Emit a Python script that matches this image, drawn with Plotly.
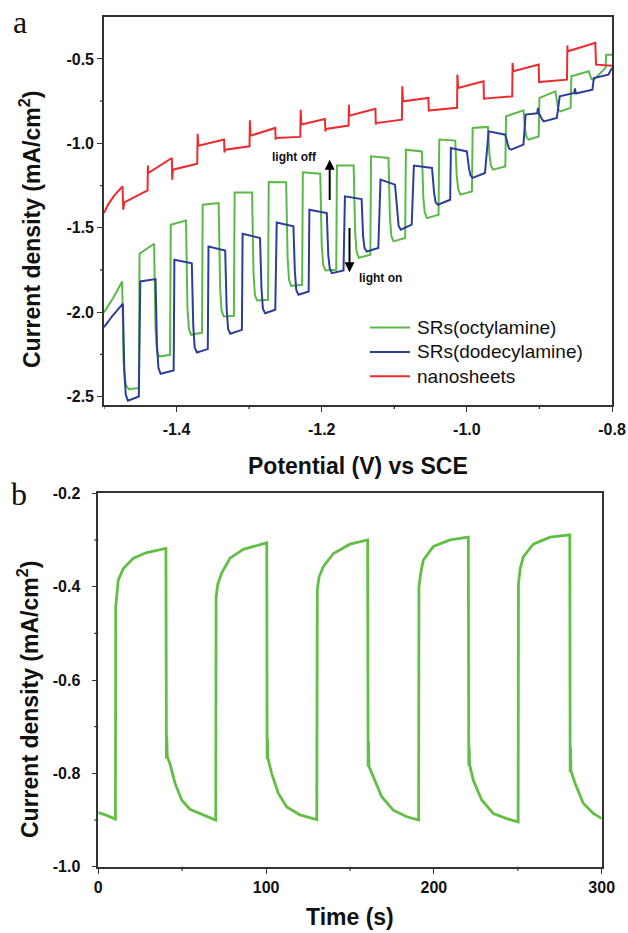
import plotly.graph_objects as go

W, H = 628, 933

# ---- panel a: chopped light LSV, potential (V vs SCE) vs current density (mA/cm2)
oct_v = [-1.500, -1.488, -1.475,
         -1.473, -1.470, -1.466, -1.452, -1.451, -1.431,
         -1.429, -1.427, -1.424, -1.409, -1.408, -1.387,
         -1.385, -1.383, -1.380, -1.365, -1.364, -1.342,
         -1.340, -1.338, -1.335, -1.321, -1.320, -1.296,
         -1.294, -1.292, -1.289, -1.274, -1.273, -1.249,
         -1.247, -1.245, -1.242, -1.227, -1.226, -1.202,
         -1.200, -1.198, -1.195, -1.180, -1.179, -1.156,
         -1.154, -1.152, -1.149, -1.133, -1.132, -1.108,
         -1.106, -1.104, -1.101, -1.085, -1.084, -1.062,
         -1.060, -1.058, -1.055, -1.039, -1.038, -1.016,
         -1.014, -1.012, -1.009, -0.993, -0.992, -0.971,
         -0.969, -0.967, -0.964, -0.947, -0.946, -0.922,
         -0.920, -0.918, -0.915, -0.901, -0.900, -0.878,
         -0.876, -0.874, -0.871, -0.857, -0.856, -0.832,
         -0.830, -0.828, -0.825, -0.809, -0.808, -0.800]
oct_j = [-2.002, -1.920, -1.818,
         -2.300, -2.430, -2.456, -2.450, -1.654, -1.595,
         -2.100, -2.230, -2.263, -2.253, -1.482, -1.457,
         -1.980, -2.100, -2.134, -2.122, -1.364, -1.354,
         -1.860, -1.990, -2.026, -2.022, -1.291, -1.291,
         -1.770, -1.900, -1.931, -1.927, -1.229, -1.231,
         -1.680, -1.810, -1.844, -1.838, -1.172, -1.180,
         -1.600, -1.720, -1.753, -1.749, -1.132, -1.132,
         -1.520, -1.640, -1.678, -1.660, -1.077, -1.087,
         -1.440, -1.550, -1.581, -1.561, -1.038, -1.048,
         -1.320, -1.410, -1.443, -1.423, -0.978, -0.984,
         -1.190, -1.270, -1.304, -1.285, -0.909, -0.903,
         -1.060, -1.130, -1.156, -1.137, -0.840, -0.805,
         -0.910, -0.960, -0.978, -0.959, -0.731, -0.692,
         -0.760, -0.800, -0.811, -0.790, -0.603, -0.573,
         -0.600, -0.620, -0.623, -0.553, -0.475, -0.475]

dod_v = [-1.500, -1.488, -1.474,
         -1.472, -1.470, -1.467, -1.452, -1.450, -1.429,
         -1.427, -1.425, -1.422, -1.404, -1.403, -1.379,
         -1.377, -1.375, -1.372, -1.357, -1.356, -1.333,
         -1.331, -1.329, -1.326, -1.310, -1.309, -1.285,
         -1.283, -1.281, -1.278, -1.264, -1.262, -1.239,
         -1.237, -1.235, -1.232, -1.218, -1.217, -1.193,
         -1.191, -1.189, -1.186, -1.170, -1.168, -1.145,
         -1.143, -1.141, -1.138, -1.122, -1.119, -1.099,
         -1.096, -1.094, -1.091, -1.076, -1.073, -1.048,
         -1.045, -1.043, -1.040, -1.023, -1.022, -1.000,
         -0.997, -0.995, -0.992, -0.975, -0.970, -0.947,
         -0.944, -0.942, -0.939, -0.922, -0.919, -0.903, -0.902, -0.901,
         -0.896, -0.894, -0.876, -0.872, -0.852, -0.851, -0.850, -0.827,
         -0.825, -0.805, -0.800]
dod_j = [-2.089, -2.020, -1.950,
         -2.350, -2.490, -2.524, -2.500, -1.818, -1.804,
         -2.200, -2.330, -2.365, -2.346, -1.690, -1.711,
         -2.080, -2.210, -2.239, -2.219, -1.611, -1.635,
         -1.980, -2.100, -2.128, -2.105, -1.536, -1.561,
         -1.860, -1.980, -2.006, -1.986, -1.469, -1.492,
         -1.760, -1.870, -1.897, -1.878, -1.393, -1.413,
         -1.660, -1.740, -1.769, -1.753, -1.314, -1.330,
         -1.550, -1.620, -1.641, -1.620, -1.215, -1.245,
         -1.430, -1.490, -1.512, -1.482, -1.132, -1.146,
         -1.300, -1.350, -1.364, -1.334, -1.028, -1.048,
         -1.150, -1.190, -1.205, -1.176, -0.929, -0.949,
         -1.000, -1.030, -1.038, -1.008, -0.830, -0.822, -0.790, -0.820,
         -0.860, -0.870, -0.850, -0.722, -0.702, -0.675, -0.705, -0.682,
         -0.613, -0.593, -0.553]

nano_v = [-1.500, -1.494, -1.486, -1.4745,
          -1.4735, -1.472, -1.440, -1.4395, -1.439, -1.4065,
          -1.406, -1.405, -1.3715, -1.371, -1.370, -1.3345,
          -1.334, -1.333, -1.2995, -1.299, -1.298, -1.264,
          -1.2635, -1.263, -1.2295, -1.229, -1.228, -1.1955,
          -1.195, -1.194, -1.163, -1.1625, -1.162, -1.126,
          -1.1255, -1.125, -1.0895, -1.089, -1.088, -1.053,
          -1.0525, -1.052, -1.0135, -1.013, -1.012, -0.977,
          -0.9765, -0.976, -0.9375, -0.937, -0.936, -0.901,
          -0.9005, -0.900, -0.862, -0.8615, -0.861, -0.823,
          -0.8225, -0.822, -0.800]
nano_j = [-1.413, -1.360, -1.310, -1.255,
          -1.393, -1.350, -1.279, -1.132, -1.176, -1.087,
          -1.215, -1.156, -1.121, -0.943, -1.014, -0.978,
          -1.054, -1.038, -1.018, -0.864, -0.955, -0.909,
          -0.978, -0.968, -0.962, -0.801, -0.889, -0.856,
          -0.929, -0.915, -0.895, -0.771, -0.836, -0.795,
          -0.889, -0.880, -0.860, -0.662, -0.751, -0.731,
          -0.811, -0.805, -0.790, -0.593, -0.672, -0.633,
          -0.741, -0.735, -0.722, -0.524, -0.573, -0.534,
          -0.642, -0.637, -0.623, -0.421, -0.455, -0.405,
          -0.534, -0.534, -0.540]

a_series = ['SRs(octylamine)', 'SRs(dodecylamine)', 'nanosheets']
a_xticks = [-1.4, -1.2, -1.0, -0.8]
a_xlabels = ['-1.4', '-1.2', '-1.0', '-0.8']
a_xminor = [-1.5, -1.3, -1.1, -0.9]
a_yticks = [-2.5, -2.0, -1.5, -1.0, -0.5]
a_ylabels = ['-2.5', '-2.0', '-1.5', '-1.0', '-0.5']
a_yminor = [-2.25, -1.75, -1.25, -0.75]

# ---- panel b: transient photocurrent at fixed bias, time (s) vs current density
b_t = [0, 5, 10.2,
       10.4, 11.9, 14.9, 20.9, 28.8, 40.3,
       40.6, 40.8, 41.1, 42.7, 45.7, 49.7, 54.6, 62.6, 70.0,
       70.2, 71.2, 73.5, 78.5, 86.4, 100.4,
       100.6, 100.8, 101.1, 103.3, 107.3, 112.3, 120.2, 130.2,
       130.5, 131.5, 134.1, 140.1, 150.0, 160.5,
       160.8, 161.0, 161.3, 163.9, 168.9, 175.8, 183.8, 190.9,
       191.1, 192.2, 193.7, 199.7, 209.6, 220.5,
       220.8, 221.0, 221.3, 223.5, 228.5, 235.4, 243.4, 250.2,
       250.4, 251.5, 253.3, 259.2, 269.2, 281.0,
       281.2, 281.4, 281.7, 284.1, 289.0, 295.0, 300.0]
b_j = [-0.884, -0.890, -0.898,
       -0.443, -0.386, -0.361, -0.339, -0.327, -0.318,
       -0.768, -0.721, -0.765, -0.779, -0.821, -0.857, -0.877, -0.889, -0.900,
       -0.422, -0.395, -0.371, -0.339, -0.320, -0.306,
       -0.770, -0.725, -0.768, -0.800, -0.843, -0.872, -0.889, -0.899,
       -0.408, -0.380, -0.357, -0.329, -0.309, -0.300,
       -0.786, -0.732, -0.785, -0.807, -0.850, -0.879, -0.893, -0.900,
       -0.400, -0.370, -0.343, -0.314, -0.300, -0.294,
       -0.783, -0.743, -0.782, -0.815, -0.857, -0.886, -0.897, -0.904,
       -0.393, -0.360, -0.336, -0.309, -0.294, -0.289,
       -0.797, -0.743, -0.795, -0.821, -0.864, -0.886, -0.897]

b_xticks = [0, 100, 200, 300]
b_xlabels = ['0', '100', '200', '300']
b_xminor = [50, 150, 250]
b_yticks = [-1.0, -0.8, -0.6, -0.4, -0.2]
b_ylabels = ['-1.0', '-0.8', '-0.6', '-0.4', '-0.2']
b_yminor = [-0.9, -0.7, -0.5, -0.3]

GREEN = '#5BBA47'
BLUE = '#2D3E9A'
RED = '#EE2A2E'
AXC = '#333333'
FONT = 'Arial, Liberation Sans, sans-serif'
SERIF = 'Liberation Serif, Times New Roman, serif'


def fx(p):
    return p / W


def fy(p):
    return 1 - p / H


fig = go.Figure()
for xs, ys, name, col in zip([oct_v, dod_v, nano_v], [oct_j, dod_j, nano_j],
                             a_series, [GREEN, BLUE, RED]):
    fig.add_scatter(x=xs, y=ys, mode='lines', name=name, showlegend=False,
                    line=dict(color=col, width=2), xaxis='x', yaxis='y')
fig.add_scatter(x=b_t, y=b_j, mode='lines', showlegend=False,
                line=dict(color='#62BE45', width=2.8), xaxis='x2', yaxis='y2')


def axis(domain, rng, vals, labels, anchor, **kw):
    d = dict(domain=domain, range=rng, anchor=anchor, automargin=False,
             showline=True, mirror=True, linecolor=AXC, linewidth=1.6,
             ticks='outside', ticklen=5, tickwidth=1.3, tickcolor=AXC,
             showgrid=False, zeroline=False,
             tickmode='array', tickvals=vals, ticktext=labels,
             tickfont=dict(family=FONT, size=16, color='#111111', weight='bold'))
    d.update(kw)
    return d


dom = dict(ax=[fx(104), fx(612)], ay=[fy(405), fy(16.7)],
           bx=[fx(98.3), fx(601.7)], by=[fy(866.7), fy(493.3)])

fig.update_layout(
    width=W, height=H, margin=dict(l=0, r=0, t=0, b=0, autoexpand=False),
    paper_bgcolor='white', plot_bgcolor='white', showlegend=False,
    xaxis=axis(dom['ax'], [-1.5, -0.8], a_xticks, a_xlabels, 'y', ticklabelstandoff=4),
    yaxis=axis(dom['ay'], [-2.55, -0.25], a_yticks, a_ylabels, 'x'),
    xaxis2=axis(dom['bx'], [0, 300], b_xticks, b_xlabels, 'y2'),
    yaxis2=axis(dom['by'], [-1.0, -0.2], b_yticks, b_ylabels, 'x2', ticklabelstandoff=8),
)


# minor ticks (4 px, outside)
def minor_x(vals, xref, yref, dom_y):
    h = 4 / ((dom_y[1] - dom_y[0]) * H)
    for v in vals:
        fig.add_shape(type='line', xref=xref, yref=yref + ' domain', x0=v, x1=v,
                      y0=0, y1=-h, line=dict(color=AXC, width=1.3))


def minor_y(vals, xref, yref, dom_x):
    w = 4 / ((dom_x[1] - dom_x[0]) * W)
    for v in vals:
        fig.add_shape(type='line', xref=xref + ' domain', yref=yref, x0=0, x1=-w,
                      y0=v, y1=v, line=dict(color=AXC, width=1.3))


minor_x(a_xminor, 'x', 'y', dom['ay'])
minor_y(a_yminor, 'x', 'y', dom['ax'])
minor_x(b_xminor, 'x2', 'y2', dom['by'])
minor_y(b_yminor, 'x2', 'y2', dom['bx'])

# legend for panel a, drawn by hand to match the sample length and row spacing
for i, (name, col) in enumerate(zip(a_series, [GREEN, BLUE, RED])):
    row = 327.5 + i * 24.4
    fig.add_shape(type='line', xref='paper', yref='paper', x0=fx(370), x1=fx(410),
                  y0=fy(row), y1=fy(row), line=dict(color=col, width=2))
    fig.add_annotation(xref='paper', yref='paper', x=fx(415), y=fy(row), text=name,
                       showarrow=False, xanchor='left', yanchor='middle',
                       font=dict(family=FONT, size=19, color='#111111'))

title_font = dict(family=FONT, size=23, color='#111111', weight='bold')
annos = [
    dict(text='Current density (mA/cm<sup>2</sup>)', x=fx(30), y=fy(230), textangle=-90,
         font=title_font),
    dict(text='Potential (V) vs SCE', x=fx(358), y=fy(466), font=title_font),
    dict(text='Current density (mA/cm<sup>2</sup>)', x=fx(28), y=fy(700), textangle=-90,
         font=title_font),
    dict(text='Time (s)', x=fx(350), y=fy(917), font=title_font),
    dict(text='a', x=fx(20), y=fy(22), font=dict(family=SERIF, size=32, color='#111111')),
    dict(text='b', x=fx(19), y=fy(494), font=dict(family=SERIF, size=32, color='#111111')),
]
for a in annos:
    fig.add_annotation(xref='paper', yref='paper', showarrow=False,
                       xanchor='center', yanchor='middle', **a)

# light off / light on markers in panel a
fig.add_annotation(x=-1.189, y=-1.097, ax=-1.189, ay=-1.344, xref='x', yref='y',
                   axref='x', ayref='y', text='', showarrow=True, arrowhead=2,
                   arrowsize=1, arrowwidth=2, arrowcolor='black')
fig.add_annotation(x=-1.1617, y=-1.764, ax=-1.1617, ay=-1.492, xref='x', yref='y',
                   axref='x', ayref='y', text='', showarrow=True, arrowhead=2,
                   arrowsize=1, arrowwidth=2, arrowcolor='black')
fig.add_annotation(x=-1.237, y=-1.079, xref='x', yref='y', text='light off', showarrow=False,
                   xanchor='center', yanchor='middle',
                   font=dict(family=FONT, size=12, color='#111111', weight='bold'))
fig.add_annotation(x=-1.151, y=-1.796, xref='x', yref='y', text='light on', showarrow=False,
                   xanchor='left', yanchor='middle',
                   font=dict(family=FONT, size=12, color='#111111', weight='bold'))

# page body has a default 8px margin; drop it so the figure sits at the window origin
fig.write_html('out.html', config={'displayModeBar': False},
               post_script="document.body.style.margin='0px';")
